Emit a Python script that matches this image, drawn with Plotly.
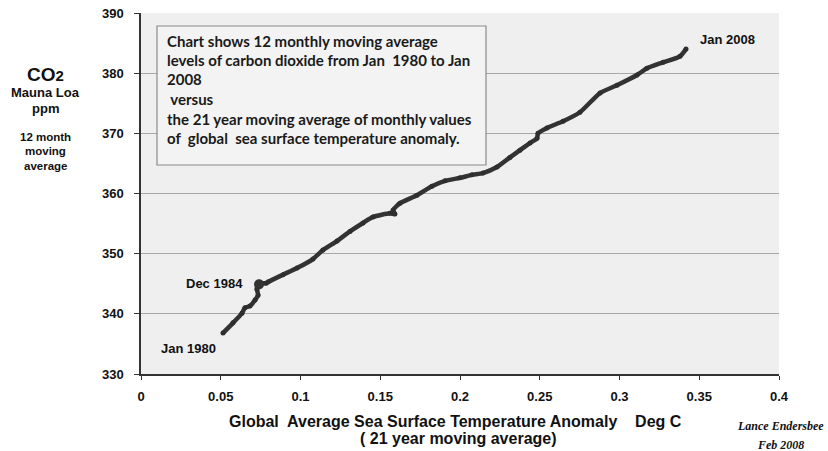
import plotly.graph_objects as go

# Data
sst_anomaly = [0.0514, 0.0577, 0.0633, 0.0652, 0.0683, 0.0715, 0.0734, 0.0727, 0.0734, 0.0759,
               0.0784, 0.0796, 0.0890, 0.0978, 0.1078, 0.1141, 0.1229, 0.1310, 0.1392, 0.1455,
               0.1561, 0.1592, 0.1580, 0.1624, 0.1730, 0.1824, 0.1906, 0.2000, 0.2075, 0.2144,
               0.2232, 0.2313, 0.2376, 0.2439, 0.2483, 0.2489, 0.2545, 0.2646, 0.2752, 0.2878,
               0.2984, 0.3110, 0.3172, 0.3273, 0.3379, 0.3417]
co2_ppm = [336.8, 338.5, 340.1, 341.0, 341.3, 342.3, 343.1, 344.1, 344.9, 345.1,
           345.1, 345.3, 346.5, 347.6, 349.1, 350.6, 352.1, 353.7, 355.1, 356.1,
           356.7, 356.6, 357.2, 358.4, 359.7, 361.2, 362.1, 362.6, 363.1, 363.4,
           364.4, 366.0, 367.2, 368.4, 369.2, 370.0, 370.9, 372.0, 373.5, 376.7,
           378.0, 379.7, 380.8, 381.8, 382.8, 384.0]
dec1984 = (0.0740, 344.9)

x_tickvals = [0, 0.05, 0.1, 0.15, 0.2, 0.25, 0.3, 0.35, 0.4]
x_ticktext = ["0", "0.05", "0.1", "0.15", "0.2", "0.25", "0.3", "0.35", "0.4"]
y_tickvals = [330, 340, 350, 360, 370, 380, 390]

box_lines = [
    "Chart shows 12 monthly moving average",
    "levels of carbon dioxide from Jan  1980 to Jan",
    "2008",
    " versus",
    "the 21 year moving average of monthly values",
    "of  global  sea surface temperature anomaly.",
]

W, H = 828, 451
L, R, T, B = 141, 49, 13, 77
PW, PH = W - L - R, H - T - B

def px(x):
    return (x - L) / PW

def py(y):
    return (H - B - y) / PH

ARIAL = "Liberation Sans"
fig = go.Figure()
fig.add_trace(go.Scatter(x=sst_anomaly, y=co2_ppm, mode="lines+markers",
                         line=dict(color="#333333", width=4.5, shape="spline", smoothing=0.6),
                         marker=dict(size=5, color="#2e2e2e"),
                         hoverinfo="skip", showlegend=False))
fig.add_trace(go.Scatter(x=[dec1984[0]], y=[dec1984[1]], mode="markers",
                         marker=dict(size=10, color="#333333"),
                         hoverinfo="skip", showlegend=False))

anns = []
def txt(x, y, s, size=13, anchor="center", family=ARIAL, color="#111111", **kw):
    anns.append(dict(x=px(x), y=py(y), xref="paper", yref="paper", text=s, showarrow=False,
                     xanchor=anchor, yanchor="middle",
                     font=dict(family=family, size=size, color=color, weight="bold"), **kw))

# Left axis title
txt(45, 74, "CO<span style='font-size:15px'>2</span>", size=19)
txt(45, 92, "Mauna Loa", size=13)
txt(45, 108, "ppm", size=13)
txt(45, 137, "12 month", size=11.5)
txt(45, 151, "moving", size=11.5)
txt(45, 166, "average", size=11.5)

# X axis title
txt(455, 421, "Global\u00a0 Average Sea Surface Temperature Anomaly\u00a0\u00a0\u00a0 Deg C", size=16)
txt(458, 438, "( 21 year moving average)", size=16)

# Signature
txt(781, 426, "<i>Lance Endersbee</i>", size=12, family="Liberation Serif")
txt(781, 445, "<i>Feb 2008</i>", size=12, family="Liberation Serif")

# Point labels
txt(188, 348, "Jan 1980", size=13)
txt(214, 283, "Dec 1984", size=13)
txt(727, 40, "Jan 2008", size=13)

# Box text
line_y = [41, 60, 79, 99, 119, 138]
for s, yy in zip(box_lines, line_y):
    txt(165, yy, s.replace(" ", "\u00a0"), size=15, anchor="left", family="Lato", color="#1a1a1a")

fig.update_layout(
    width=W, height=H,
    margin=dict(l=L, r=R, t=T, b=B, autoexpand=False),
    paper_bgcolor="white", plot_bgcolor="#efefef",
    annotations=anns,
    shapes=[dict(type="rect", xref="paper", yref="paper",
                 x0=px(157), x1=px(486), y0=py(165), y1=py(26),
                 line=dict(color="#8a8a8a", width=1.2), fillcolor="#f3f3f3", layer="above")],
    xaxis=dict(range=[0, 0.4], tickvals=x_tickvals, ticktext=x_ticktext,
               showgrid=False, zeroline=False, showline=True, linecolor="#333333", linewidth=1.5,
               ticks="outside", ticklen=4, tickcolor="#333333", ticklabelstandoff=6,
               tickfont=dict(family=ARIAL, size=13, color="#111111", weight="bold")),
    yaxis=dict(range=[330, 390], tickvals=y_tickvals,
               showgrid=True, gridcolor="#a8a8a8", gridwidth=1, zeroline=False,
               showline=True, linecolor="#333333", linewidth=1.5,
               ticks="outside", ticklen=5, tickcolor="#333333", ticklabelstandoff=8,
               tickfont=dict(family=ARIAL, size=13, color="#111111", weight="bold")),
)
fig.write_html("out.html", config={"displayModeBar": False},
               post_script="document.body.style.margin='0';document.body.style.overflow='hidden';")
